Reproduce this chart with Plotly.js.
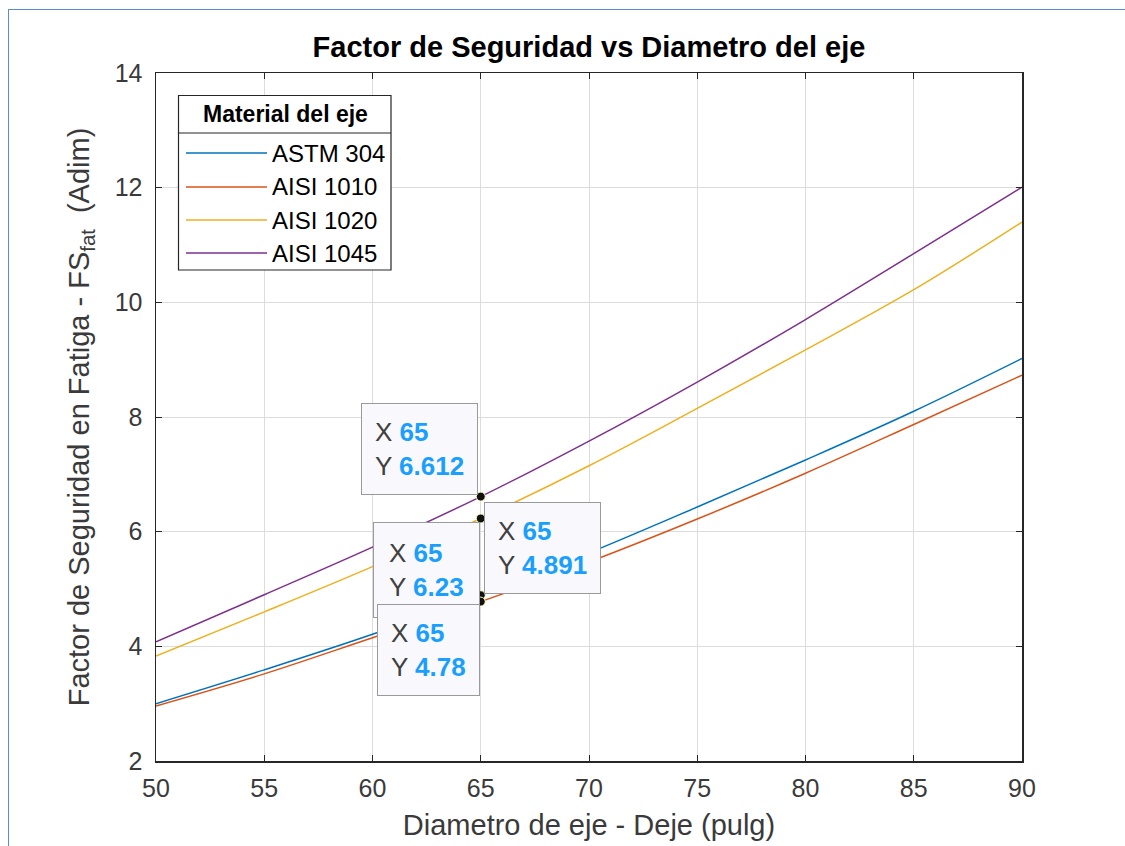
<!DOCTYPE html>
<html>
<head>
<meta charset="utf-8">
<script src="https://cdn.plot.ly/plotly-3.0.1.min.js"></script>
<style>
  html, body { margin: 0; padding: 0; background: #fff; }
  #wrap { position: relative; width: 1125px; height: 846px; overflow: hidden; }
  #frame { position: absolute; left: 8px; top: 9px; width: 1125px; height: 846px;
           border-left: 1.5px solid #5b8bd6; border-top: 1.5px solid #5b8bd6; pointer-events: none; }
</style>
</head>
<body>
<div id="wrap">
  <div id="chart" style="width:1125px;height:846px;"></div>
  <div id="frame"></div>
</div>
<script>
// Diameter values (x)
const diametro = [50, 55, 60, 65, 70, 75, 80, 85, 90];
// Safety factor series
const astm304  = [3.00, 3.59, 4.21, 4.891, 5.63, 6.43, 7.25, 8.10, 9.02];
const aisi1010 = [2.96, 3.52, 4.15, 4.78, 5.47, 6.22, 7.02, 7.87, 8.73];
const aisi1020 = [3.83, 4.60, 5.39, 6.23, 7.15, 8.15, 9.17, 10.22, 11.40];
const aisi1045 = [4.08, 4.90, 5.73, 6.612, 7.58, 8.61, 9.70, 10.85, 12.01];
const seriesNames = ['ASTM 304', 'AISI 1010', 'AISI 1020', 'AISI 1045'];
const seriesColors = ['#0072BD', '#D95319', '#EDB120', '#7E2F8E'];
const legendTitle = 'Material del eje';
const xTicks = [50, 55, 60, 65, 70, 75, 80, 85, 90];
const yTicks = [2, 4, 6, 8, 10, 12, 14];
// Data tips shown in the figure (x value)
const tipX = 65;
const tipIdx = diametro.indexOf(tipX);

const allSeries = [astm304, aisi1010, aisi1020, aisi1045];
const FONT = 'Liberation Sans, Arial, Helvetica, sans-serif';

// plot area in pixels (for legend box placement in paper coords)
const PL = 156, PR = 1022, PT = 73, PB = 761;
const px2x = p => (p - PL) / (PR - PL);
const py2y = p => (PB - p) / (PB - PT);

const traces = allSeries.map((ys, i) => ({
  x: diametro, y: ys, type: 'scatter', mode: 'lines',
  name: seriesNames[i], showlegend: false,
  line: {color: seriesColors[i], width: 1.5, shape: 'spline'}
}));

// Data tip markers
traces.push({
  x: allSeries.map(() => tipX),
  y: allSeries.map(s => s[tipIdx]),
  type: 'scatter', mode: 'markers', showlegend: false, hoverinfo: 'skip',
  marker: {color: '#111', size: 9, line: {color: '#ffffc8', width: 1}}
});

function tipText(xv, yv) {
  return '<span style="color:#404040">X </span><b style="color:#1a9fff">' + xv + '</b><br>' +
         '<span style="color:#404040">Y </span><b style="color:#1a9fff">' + yv + '</b>';
}
// placement of each data tip box relative to its point: [xanchor, yanchor, xshift, yshift, borderpad]
const tipPlace = [
  ['left', 'bottom', 3, 1, 13],    // ASTM 304
  ['right', 'top', -1, -2, 13],    // AISI 1010
  ['right', 'top', -1, -4, 15],    // AISI 1020
  ['right', 'bottom', -3, 2, 13]   // AISI 1045
];
// drawing order of the tips (later ones on top)
const tipOrder = [3, 2, 0, 1];
const annotations = tipOrder.map(i => ({
  x: tipX, y: allSeries[i][tipIdx], xref: 'x', yref: 'y', showarrow: false,
  text: tipText(tipX, allSeries[i][tipIdx]), align: 'left',
  xanchor: tipPlace[i][0], yanchor: tipPlace[i][1],
  xshift: tipPlace[i][2], yshift: tipPlace[i][3],
  font: {family: FONT, size: 26, color: '#404040'},
  bgcolor: '#f9f9fd', bordercolor: '#9a9a9a', borderwidth: 1, borderpad: tipPlace[i][4]
}));

// Custom legend (MATLAB style with long line samples)
const shapes = [
  {type: 'rect', xref: 'paper', yref: 'paper', x0: px2x(178.5), x1: px2x(391), y0: py2y(270), y1: py2y(95.5),
   line: {color: '#262626', width: 1.2}, fillcolor: '#ffffff', layer: 'above'},
  {type: 'line', xref: 'paper', yref: 'paper', x0: px2x(178.5), x1: px2x(391), y0: py2y(133), y1: py2y(133),
   line: {color: '#262626', width: 1.2}, layer: 'above'}
];
const entryY = [153, 187, 220, 253];
seriesNames.forEach((nm, i) => {
  shapes.push({type: 'line', xref: 'paper', yref: 'paper',
    x0: px2x(186), x1: px2x(267), y0: py2y(entryY[i]), y1: py2y(entryY[i]),
    line: {color: seriesColors[i], width: 1.5}, layer: 'above'});
  annotations.push({xref: 'paper', yref: 'paper', x: px2x(270), y: py2y(entryY[i]),
    xanchor: 'left', yanchor: 'middle', showarrow: false, text: nm,
    font: {family: FONT, size: 24, color: '#000'}});
});
annotations.push({xref: 'paper', yref: 'paper', x: px2x(285), y: py2y(114),
  xanchor: 'center', yanchor: 'middle', showarrow: false, text: '<b>' + legendTitle + '</b>',
  font: {family: FONT, size: 23, color: '#000'}});

const layout = {
  width: 1125, height: 846,
  margin: {l: PL, r: 1125 - PR, t: PT, b: 846 - PB},
  paper_bgcolor: '#ffffff', plot_bgcolor: '#ffffff',
  font: {family: FONT, color: '#262626'},
  title: {text: '<b>Factor de Seguridad vs Diametro del eje</b>',
          font: {family: FONT, size: 29, color: '#000'},
          x: 0.5, xref: 'paper', xanchor: 'center', y: 1 - 47/846, yanchor: 'middle'},
  xaxis: {
    range: [50, 90], tickvals: xTicks, ticktext: xTicks.map(String),
    showgrid: true, gridcolor: '#dcdcdc', gridwidth: 1,
    showline: true, linecolor: '#262626', linewidth: 1.5, mirror: 'ticks',
    ticks: 'inside', ticklen: 6, tickwidth: 1, tickcolor: '#262626',
    tickfont: {family: FONT, size: 25, color: '#3a3a3a'}, ticklabelstandoff: 4,
    zeroline: false,
    title: {text: 'Diametro de eje - Deje (pulg)', font: {family: FONT, size: 29, color: '#3a3a3a'}, standoff: 14}
  },
  yaxis: {
    range: [2, 14], tickvals: yTicks, ticktext: yTicks.map(String),
    showgrid: true, gridcolor: '#dcdcdc', gridwidth: 1,
    showline: true, linecolor: '#262626', linewidth: 1.5, mirror: 'ticks',
    ticks: 'inside', ticklen: 6, tickwidth: 1, tickcolor: '#262626',
    tickfont: {family: FONT, size: 25, color: '#3a3a3a'}, ticklabelstandoff: 7,
    zeroline: false,
    title: {text: 'Factor de Seguridad en Fatiga - FS<sub>fat</sub> &nbsp;(Adim)', font: {family: FONT, size: 29, color: '#3a3a3a'}, standoff: 16}
  },
  shapes: shapes,
  annotations: annotations,
  showlegend: false
};

Plotly.newPlot('chart', traces, layout, {displayModeBar: false, staticPlot: true});
</script>
</body>
</html>
